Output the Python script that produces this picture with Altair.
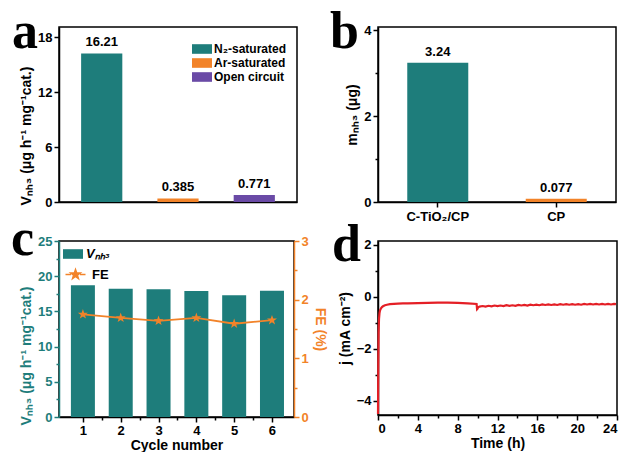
import altair as alt
import pandas as pd

TEAL = "#1e7d7b"
ORANGE = "#f28329"
PURPLE = "#6a4aa6"
RED = "#e41f26"
FONT = "Liberation Sans"

# ---------------- data ----------------
# Panel a
a_conditions = ["N₂-saturated", "Ar-saturated", "Open circuit"]
a_values = [16.21, 0.385, 0.771]
a_labels = ["16.21", "0.385", "0.771"]

# Panel b
b_samples = ["C-TiO₂/CP", "CP"]
b_values = [3.24, 0.077]
b_labels = ["3.24", "0.077"]

# Panel c
c_cycles = [1, 2, 3, 4, 5, 6]
c_rate = [18.7, 18.2, 18.15, 17.9, 17.3, 17.95]
c_fe = [1.75, 1.69, 1.64, 1.69, 1.59, 1.65]

# Panel d
d_time = [0, 0.03, 0.06, 0.1, 0.15, 0.2, 0.3, 0.4, 0.5, 0.7, 0.9, 1.2, 1.6, 2.0,
          2.5, 3, 4, 5, 6, 7, 8, 9, 9.9, 9.95, 10.0, 10.05, 10.2,
          10.5, 10.8, 11.1, 11.4, 11.7, 12.0, 12.3, 12.6, 12.9, 13.2, 13.5, 13.8,
          14.1, 14.4, 14.7, 15.0, 15.3, 15.6, 15.9, 16.2, 16.5, 16.8, 17.1, 17.4,
          17.7, 18.0, 18.3, 18.6, 18.9, 19.2, 19.5, 19.8, 20.1, 20.4, 20.7, 21.0,
          21.3, 21.6, 21.9, 22.2, 22.5, 22.8, 23.1, 23.4, 23.7, 23.9]
d_j = [-4.5, -2.6, -1.4, -0.85, -0.62, -0.52, -0.44, -0.39, -0.36, -0.32, -0.30, -0.28, -0.27, -0.26,
       -0.25, -0.25, -0.24, -0.23, -0.22, -0.22, -0.23, -0.25, -0.27, -0.47, -0.45, -0.40, -0.37,
       -0.35, -0.37, -0.34, -0.36, -0.33, -0.35, -0.33, -0.35, -0.32, -0.34, -0.32, -0.34,
       -0.31, -0.33, -0.31, -0.33, -0.30, -0.32, -0.30, -0.32, -0.29, -0.31, -0.29, -0.31,
       -0.29, -0.31, -0.28, -0.30, -0.28, -0.30, -0.28, -0.30, -0.28, -0.30, -0.27, -0.29,
       -0.27, -0.29, -0.27, -0.29, -0.27, -0.29, -0.27, -0.29, -0.27, -0.28]

RECT = "M-1.25,-0.6H1.25V0.6H-1.25Z"
STAR = ("M0,-1L0.235,-0.324L0.951,-0.309L0.38,0.124L0.588,0.809L0,0.4"
        "L-0.588,0.809L-0.38,0.124L-0.951,-0.309L-0.235,-0.324Z")
STAR_LEG = "M-2,0H-0.9M0.9,0H2" + STAR


def tsize(test):
    return {"condition": {"test": test, "value": 3}, "value": 5}


def major(step):
    return f"datum.value % {step} == 0 ? format(datum.value, 'd') : ''"


def letter(ch, x, y):
    return alt.Chart(pd.DataFrame({"t": [ch]})).mark_text(
        font="Liberation Serif", fontWeight="bold", fontSize=52,
        align="left", baseline="alphabetic", color="black"
    ).encode(text="t:N", x=alt.value(x), y=alt.value(y))


# ---------------- panel a ----------------
dfa = pd.DataFrame({"cond": a_conditions, "v": a_values, "lab": a_labels})
xa = alt.X("cond:N", sort=a_conditions,
           scale=alt.Scale(paddingInner=0.46, paddingOuter=0.29),
           axis=alt.Axis(labels=False, ticks=False, title=None))
ya = alt.Y("v:Q", scale=alt.Scale(domain=[0, 19.1], nice=False),
           axis=alt.Axis(values=[0, 3, 6, 9, 12, 15, 18],
                         labelExpr=major(6),
                         tickSize=tsize("datum.value % 6 != 0"),
                         title="Vₙₕ₃ (μg h⁻¹ mg⁻¹cat.)",
                         titleAlign="left", titleY=178, titleFontSize=14))
bars_a = alt.Chart(dfa).mark_bar().encode(
    x=xa, y=ya,
    color=alt.Color("cond:N", sort=a_conditions,
                    scale=alt.Scale(domain=a_conditions, range=[TEAL, ORANGE, PURPLE]),
                    legend=alt.Legend(orient="none", legendX=135, legendY=14, title=None,
                                      symbolType=RECT, symbolSize=256, symbolStrokeWidth=0,
                                      labelFont=FONT, labelFontWeight="bold", labelFontSize=12,
                                      labelOffset=4, rowPadding=0, padding=0)))
text_a = alt.Chart(dfa).mark_text(baseline="bottom", dy=-4, font=FONT, fontWeight="bold",
                                  fontSize=13, color="black").encode(x=xa, y="v:Q", text="lab:N")
chart_a = alt.layer(bars_a, text_a, letter("a", -47, 21)).properties(width=238, height=175)

# ---------------- panel b ----------------
dfb = pd.DataFrame({"s": b_samples, "v": b_values, "lab": b_labels})
xb = alt.X("s:N", sort=b_samples,
           scale=alt.Scale(paddingInner=0.485, paddingOuter=0.247),
           axis=alt.Axis(title=None, labelAngle=0, labelPadding=3, tickSize=5))
yb = alt.Y("v:Q", scale=alt.Scale(domain=[0, 4.07], nice=False),
           axis=alt.Axis(values=[0, 1, 2, 3, 4],
                         labelExpr=major(2),
                         tickSize=tsize("datum.value % 2 != 0"),
                         title="mₙₕ₃ (μg)", titleFontSize=14))
bars_b = alt.Chart(dfb).mark_bar().encode(
    x=xb, y=yb,
    color=alt.Color("s:N", sort=b_samples,
                    scale=alt.Scale(domain=b_samples, range=[TEAL, ORANGE]), legend=None))
text_b = alt.Chart(dfb).mark_text(baseline="bottom", dy=-4, font=FONT, fontWeight="bold",
                                  fontSize=13, color="black").encode(x=xb, y="v:Q", text="lab:N")
chart_b = alt.layer(bars_b, text_b, letter("b", -48, 21)).properties(width=238, height=175)

# ---------------- panel c ----------------
dfc = pd.DataFrame({"cycle": c_cycles, "rate": c_rate, "fe": c_fe,
                    "s1": ["Vₙₕ₃"] * 6, "s2": ["FE"] * 6})
xc = alt.X("cycle:Q", scale=alt.Scale(domain=[0.5, 6.45], nice=False),
           axis=alt.Axis(values=[1, 1.5, 2, 2.5, 3, 3.5, 4, 4.5, 5, 5.5, 6],
                         labelExpr=major(1),
                         tickSize=tsize("datum.value % 1 != 0"),
                         title="Cycle number", titleFontSize=14, titlePadding=1))
bars_c = alt.Chart(dfc).mark_bar(size=24).encode(
    x=xc,
    y=alt.Y("rate:Q", scale=alt.Scale(domain=[0, 25], nice=False),
            axis=alt.Axis(values=[0, 2.5, 5, 7.5, 10, 12.5, 15, 17.5, 20, 22.5, 25],
                          labelExpr=major(5),
                          tickSize=tsize("datum.value % 5 != 0"),
                          title="Vₙₕ₃ (μg h⁻¹ mg⁻¹cat.)", titleAlign="left", titleY=184,
                          titleFontSize=14,
                          labelColor=TEAL, titleColor=TEAL, tickColor=TEAL, domainColor=TEAL)),
    color=alt.Color("s1:N", scale=alt.Scale(domain=["Vₙₕ₃"], range=[TEAL]),
                    legend=alt.Legend(orient="none", legendX=6, legendY=5, title=None,
                                      symbolType=RECT, symbolSize=256, symbolStrokeWidth=0,
                                      labelFont=FONT, labelFontWeight="bold", labelFontSize=13,
                                      labelFontStyle="italic",
                                      labelOffset=5, padding=0)))
yfe = alt.Y("fe:Q", scale=alt.Scale(domain=[0, 3], nice=False),
            axis=alt.Axis(orient="right", values=[0, 0.5, 1, 1.5, 2, 2.5, 3],
                          labelExpr=major(1),
                          tickSize=tsize("datum.value % 1 != 0"),
                          title="FE (%)", titleFontSize=14,
                          labelColor=ORANGE, titleColor=ORANGE, tickColor=ORANGE,
                          domainColor=ORANGE))
line_c = alt.Chart(dfc).mark_line(color=ORANGE, strokeWidth=1.8).encode(x=xc, y=yfe)
pts_c = alt.Chart(dfc).mark_point(shape=STAR, filled=True, size=110, opacity=1).encode(
    x=xc, y=yfe,
    color=alt.Color("s2:N", scale=alt.Scale(domain=["FE"], range=[ORANGE]),
                    legend=alt.Legend(orient="none", legendX=10, legendY=27, title=None,
                                      symbolType=STAR_LEG, symbolSize=100,
                                      symbolStrokeColor=ORANGE, symbolStrokeWidth=1.5,
                                      symbolFillColor=ORANGE, symbolOpacity=1,
                                      labelFont=FONT, labelFontWeight="bold", labelFontSize=13,
                                      labelOffset=10, padding=0)))
chart_c = alt.layer(bars_c, alt.layer(line_c, pts_c), letter("c", -48, 14)).resolve_scale(
    y="independent", color="independent").resolve_legend(color="independent").properties(
    width=235, height=176)

# ---------------- panel d ----------------
dfd = pd.DataFrame({"t": d_time, "j": d_j})
line_d = alt.Chart(dfd).mark_line(color=RED, strokeWidth=2.2).encode(
    x=alt.X("t:Q", scale=alt.Scale(domain=[0, 24], nice=False),
            axis=alt.Axis(values=list(range(0, 25, 2)),
                          labelExpr=major(4),
                          tickSize=tsize("datum.value % 4 != 0"),
                          title="Time (h)", titleFontSize=14, titlePadding=1)),
    y=alt.Y("j:Q", scale=alt.Scale(domain=[-4.54, 2.15], nice=False),
            axis=alt.Axis(values=[-4, -3, -2, -1, 0, 1, 2],
                          labelExpr=major(2),
                          tickSize=tsize("datum.value % 2 != 0"),
                          title="j (mA cm⁻²)", titleFontSize=14)))
chart_d = alt.layer(line_d, letter("d", -46, 20)).properties(width=239, height=174)

chart = alt.concat(chart_a, chart_b, chart_c, chart_d, columns=2,
                   spacing={"row": 39, "column": 81}, bounds="flush").resolve_scale(
    color="independent").properties(
    padding={"left": 10, "top": 5, "right": 0, "bottom": 0}
).configure_view(stroke="black", strokeWidth=1.5).configure_axis(
    labelFont=FONT, labelFontWeight="bold", labelFontSize=13, labelColor="black",
    titleFont=FONT, titleFontWeight="bold", titleColor="black",
    domainColor="black", domainWidth=1.5, tickColor="black", tickWidth=1.5,
    labelPadding=2, grid=False
).configure_legend(labelColor="black")

chart.save("out.html", embed_options={"renderer": "svg", "actions": False})
